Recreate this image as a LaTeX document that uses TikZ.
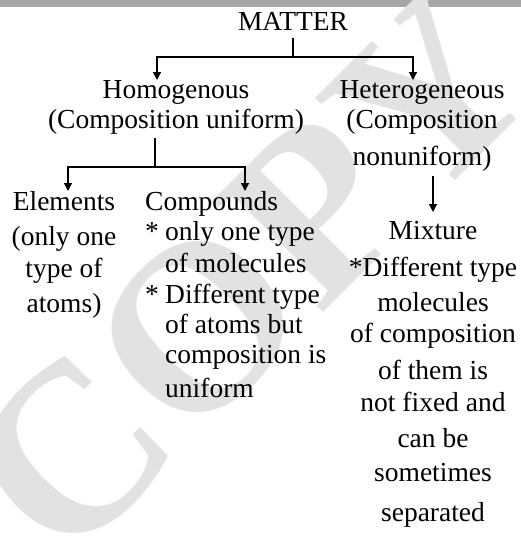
\documentclass[tikz,border=0pt]{standalone}
\usepackage{fontspec}
\setmainfont{Liberation Serif}
\usetikzlibrary{arrows.meta}

\definecolor{barGray}{RGB}{166,166,166}
\definecolor{markGray}{RGB}{226,226,226}

\tikzset{
  box/.style={inner sep=0pt, font=\fontsize{27.5}{31}\selectfont},
  link/.style={line width=1.3pt},
  arr/.style={link, -{Triangle[length=8pt,width=8pt]}},
}

\begin{document}
\begin{tikzpicture}[x=1pt, y=-1pt, line cap=butt]
  % Page frame and top bar
  \useasboundingbox (0,0) rectangle (521,543);
  \fill[barGray] (0,0) rectangle (521,7);

  % Watermark
  \node[text=markGray, rotate=45, inner sep=0pt,
        font=\fontsize{240}{240}\selectfont\bfseries] (mark) at (250,275) {COPY};

  % Classes
  \node[box, anchor=north] (matter) at (293,12) {MATTER};
  \node[box, anchor=north, align=center] (homo) at (176,80)
    {Homogenous\\[-1pt](Composition uniform)};
  \node[box, anchor=north, align=center] (hetero) at (422,80)
    {Heterogeneous\\[-1pt](Composition\\[6pt]nonuniform)};
  \node[box, anchor=north, align=center] (elem) at (64,191)
    {Elements\\[4pt](only one\\[1pt]type of\\[4pt]atoms)};
  \node[box, anchor=north west, align=left] (comp) at (145,191)
    {Compounds\\[-1pt]
     \makebox[20pt][l]{*}only one type\\[1pt]
     \hspace*{20pt}of molecules\\
     \makebox[20pt][l]{*}Different type\\[-1pt]
     \hspace*{20pt}of atoms but\\[-1pt]
     \hspace*{20pt}composition is\\[3pt]
     \hspace*{20pt}uniform};
  \node[box, anchor=north, align=center] (mix) at (433,221)
    {Mixture\\[6pt]*Different type\\[4pt]molecules\\of composition\\[6pt]%
     of them is\\[1pt]not fixed and\\[5pt]can be\\[3pt]sometimes\\[9pt]separated};

  % Connectors
  \coordinate (jTop) at (matter.south |- 0,57);
  \draw[link, shorten <=7pt] (matter.south) -- (jTop);
  \draw[arr] (jTop) -| ([xshift=-19pt]homo.north);
  \draw[arr] (jTop) -| ([xshift=-9pt]hetero.north);

  \coordinate (jLow) at ([xshift=-21pt]homo.south |- 0,167);
  \draw[link, shorten <=4pt] ([xshift=-21pt]homo.south) -- (jLow);
  \draw[arr] (jLow) -| ([xshift=4pt]elem.north);
  \draw[arr] (jLow) -| ([xshift=100pt]comp.north west);

  \draw[arr, shorten <=5pt, shorten >=9pt] (hetero.south -| mix.north) -- (mix.north);
\end{tikzpicture}
\end{document}
